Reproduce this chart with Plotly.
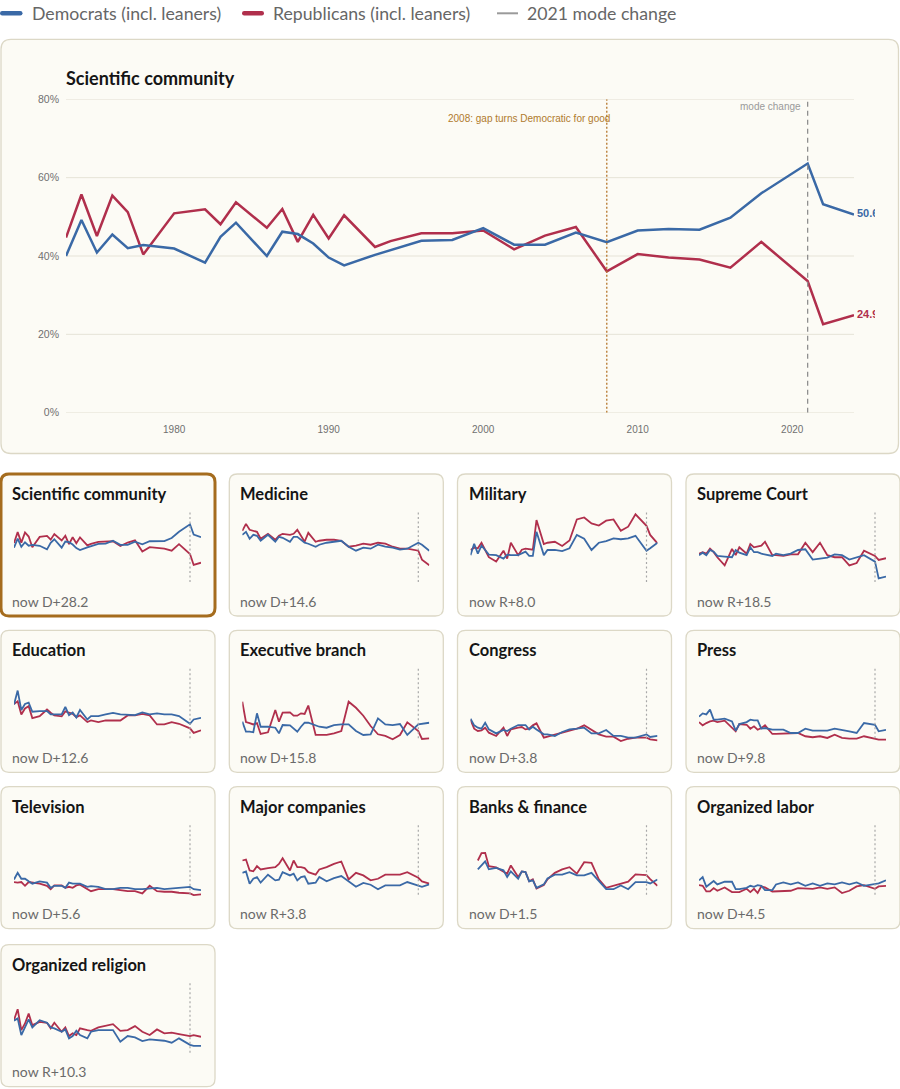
import plotly.graph_objects as go

W, H = 900, 1089

# ---------------- data ----------------
years = [1973, 1974, 1975, 1976, 1977, 1978, 1980, 1982, 1983, 1984, 1986, 1987, 1988,
         1989, 1990, 1991, 1993, 1994, 1996, 1998, 2000, 2002, 2004, 2006, 2008, 2010,
         2012, 2014, 2016, 2018, 2021, 2022, 2024]

institutions = ["Scientific community", "Medicine", "Military", "Supreme Court",
                "Education", "Executive branch", "Congress", "Press",
                "Television", "Major companies", "Banks & finance", "Organized labor",
                "Organized religion"]

gap_labels = ["now D+28.2", "now D+14.6", "now R+8.0", "now R+18.5",
              "now D+12.6", "now D+15.8", "now D+3.8", "now D+9.8",
              "now D+5.6", "now R+3.8", "now D+1.5", "now D+4.5",
              "now R+10.3"]

sci_dem = [40.0, 49.2, 40.9, 45.5, 42.0, 42.8, 41.9, 38.3, 44.9, 48.5, 40.0, 46.2, 45.6,
           43.2, 39.6, 37.6, 40.3, 41.5, 43.9, 44.1, 47.1, 42.9, 42.9, 46.0, 43.5, 46.5,
           46.9, 46.7, 49.8, 56.0, 63.6, 53.2, 50.6]
sci_rep = [44.7, 55.7, 45.1, 55.4, 51.2, 40.4, 50.9, 51.9, 48.1, 53.7, 47.2, 52.0, 43.6,
           50.5, 44.5, 50.4, 42.3, 43.8, 45.8, 45.8, 46.5, 41.7, 45.2, 47.4, 36.1, 40.5,
           39.6, 39.1, 37.0, 43.6, 33.6, 22.6, 24.9]

med_dem = [53, 56, 49, 53, 52, 47, 53, 46, 51, 50, 46, 51, 51, 48, 45, 44,
           41, 43, 45, 46, 47, 41, 37, 40, 39, 43, 41, 40, 38, 39, 45, 43, 37]
med_rep = [57, 64, 58, 57, 56, 49, 54, 48, 52, 54, 53, 54, 58, 52, 46, 55,
           46, 47, 48, 48, 47, 41, 42, 44, 43, 45, 44, 41, 39, 39, 37, 28, 22.4]

mil_dem = [32.5, 44, 34, 42, 37.7, 33, 32.5, 29, 33, 32.5, 32.5, 34, 36, 31.7, 31.7, 56,
           32.5, 37.7, 37.7, 36.5, 39.4, 52.9, 49, 37.7, 45, 46.7, 49.4, 48.5, 49.4, 52,
           37, 39.4, 45]
mil_rep = [37.7, 40, 39.4, 45, 37.7, 30.4, 26, 37, 29, 45, 32.5, 38, 39, 38.7, 38, 67.8,
           43.7, 45, 46, 41.8, 47.2, 68.5, 70.5, 64.5, 62.3, 67.2, 68.5, 57, 61.2, 73.6,
           62, 52.9, 44.4]

sc_dem = [32.5, 35, 32.5, 37.7, 36, 31.7, 31, 30.4, 37.7, 35, 32.5, 40.4, 35.5, 35.5, 34, 33.3,
          31.7, 34, 32.5, 34, 37.7, 38.4, 28, 29, 30, 33.3, 32.5, 28, 30, 32.5, 26, 9, 10.9]
sc_rep = [34, 35.5, 34, 39, 35.5, 30.4, 22.2, 38.7, 32.5, 40.4, 34, 43.7, 40.4, 41, 42, 46,
          32.5, 32.5, 31.7, 33.3, 33.3, 45, 35.5, 45, 32.5, 30.4, 30.4, 22.2, 24.5, 37,
          31.7, 27.7, 29.4]

edu_dem = [39.4, 53.5, 33.9, 40, 41.3, 32.2, 32.9, 32.9, 29.5, 29.5, 29.5, 37.2, 28.8, 31.5,
           26.5, 34.1, 24.4, 27.8, 27.8, 29.5, 31.1, 29.5, 29.5, 28.8, 31.5, 29.5, 30.5,
           29.5, 29.5, 27.8, 20.1, 24.4, 26.1]
edu_rep = [40, 42.7, 29.5, 35.5, 37.8, 25.8, 27.8, 34.5, 31.2, 28.5, 27.5, 32.5, 31.2, 30.1,
           26.8, 28.5, 21.8, 23.4, 21.8, 23.4, 23.4, 23.4, 28.5, 28.5, 30.1, 28.5, 19.4,
           19.4, 21.8, 20.1, 15.5, 10.9, 13.5]

exe_dem = [22.2, 12.1, 12.1, 11.5, 30.6, 17.1, 17.1, 16.1, 10.5, 18.8, 18.5, 15.0, 12.1,
           17.1, 21.1, 21.1, 18.8, 17.1, 16.1, 18.8, 19.4, 19.4, 12.8, 8.8, 9.4, 25.5,
           19.4, 18.8, 19.8, 8.8, 19.4, 19.8, 21.1]
exe_rep = [42.3, 21.8, 20.8, 19.4, 20.8, 9.8, 11.5, 33.9, 22.2, 31.3, 31.5, 28.2, 28.2,
           30.6, 30.0, 38.4, 8.8, 8.8, 8.8, 10.5, 12.8, 42.3, 36.2, 28.2, 17.8, 9.5, 7.8,
           4.5, 8.8, 21.5, 12.8, 4.8, 5.3]

con_dem = [25.2, 18.5, 16.1, 15.1, 21.1, 14.4, 10.4, 13.8, 12.8, 15.1, 18.8, 18.8, 18.8,
           14.4, 17.1, 14.4, 9.4, 9.4, 7.8, 11.8, 14.4, 15.1, 16.1, 10.4, 10.4, 13.8, 7.8,
           7.8, 6.1, 6.1, 9.4, 6.8, 7.8]
con_rep = [24, 15.1, 12.8, 13.5, 16.1, 11.1, 7.8, 16.1, 7.8, 14.4, 16.1, 16.8, 14.4, 15.1,
           18.5, 20.5, 6.1, 7.1, 9.4, 11.1, 13.8, 15.1, 18.5, 13.8, 9.4, 7.1, 7.1, 2.7, 5.0,
           6.1, 6.1, 4.4, 3.4]

prs_dem = [27.2, 30.5, 29.5, 34.3, 24.2, 24.2, 25.2, 22.5, 13.1, 19.8, 21.8, 24.2, 23.5,
           23.5, 15.1, 15.8, 14.1, 14.1, 14.1, 10.8, 10.8, 15.1, 13.1, 13.1, 13.1, 15.1,
           14.1, 12.5, 10.8, 20.8, 19.1, 12.5, 13.9]
prs_rep = [21.8, 18.5, 20.8, 22.5, 23.2, 21.8, 23.2, 16.5, 12.5, 19.8, 19.1, 15.1, 17.5,
           14.1, 15.8, 18.5, 9.8, 9.8, 10.1, 9.8, 10.8, 7.5, 6.5, 7.5, 5.8, 9.1, 5.8, 5.1,
           5.1, 7.5, 4.8, 4.1, 4.1]

tv_dem = [20.8, 27.5, 21.5, 21.5, 18.9, 16.5, 18.9, 17.6, 12.4, 14.4, 14.4, 12.4, 17.6,
          16.5, 16.5, 16.5, 13.4, 14.0, 13.4, 11.0, 11.0, 12.4, 12.4, 11.0, 11.0, 11.7,
          12.4, 11.0, 11.7, 11.7, 13.4, 11.0, 10.1]
tv_rep = [18.2, 17.6, 18.2, 14.4, 18.2, 17.6, 16.5, 14.4, 11.0, 14.8, 14.8, 12.4, 13.4,
          12.4, 14.8, 15.5, 11.0, 9.0, 11.0, 11.0, 11.0, 10.1, 9.0, 9.0, 6.7, 14.4, 9.0,
          8.4, 8.4, 7.4, 6.7, 5.0, 5.7]

biz_dem = [27.5, 28.9, 16.5, 21.5, 23.2, 17.6, 25.6, 19.9, 20.5, 28.2, 24.9, 26.6, 19.9,
           23.2, 23.9, 16.5, 17.6, 23.2, 18.9, 22.2, 24.2, 18.9, 13.4, 17.3, 15.5, 11.0,
           14.8, 14.8, 14.8, 18.2, 14.1, 13.4, 15.8]
biz_rep = [39.9, 40.9, 29.9, 29.0, 34.2, 30.9, 32.2, 33.2, 36.5, 42.2, 29.9, 39.9, 33.2,
           33.2, 32.2, 28.2, 25.6, 30.9, 33.2, 36.5, 38.9, 20.8, 27.5, 24.9, 19.9, 21.5,
           25.6, 25.6, 25.6, 28.2, 22.5, 18.9, 16.5]

bank_dem = [None, None, 30.9, 35, 39, 31, 32.5, 30, 23.2, 29, 21.5, 28.9, 28.2, 18.9, 19.9,
            12.4, 15.8, 21.8, 25.6, 25.6, 28.2, 24.9, 24.9, 27.5, 18.9, 11.0, 11.0, 14.8,
            11.0, 18.2, 18.2, 16.8, 20.8]
bank_rep = [None, None, 39.9, 47.3, 47.6, 34.2, 33, 28.2, 26.6, 34.9, 23.2, 28.9, 28.2,
            18.9, 20.9, 11.7, 15.1, 21, 27.5, 30.9, 33.2, 26.6, 38.2, 37.6, 20.9, 12.4,
            14.4, 16.8, 18.5, 25.9, 25.2, 21.2, 14.4]

lab_dem = [19.9, 23.2, 13.4, 16.8, 19.2, 15.8, 18.5, 18.5, 11.0, 11.0, 12.4, 14.4, 13.4,
           15.1, 14.4, 10.1, 10.1, 15.8, 17.8, 15.8, 17.8, 14.4, 16.8, 14.4, 16.8, 15.8,
           17.8, 15.8, 17.8, 14.4, 15.8, 16.8, 19.9]
lab_rep = [15.1, 14.4, 8.7, 8.7, 12.1, 9.4, 12.8, 8.1, 8.1, 8.1, 11.4, 8.1, 11.4, 7.1,
           13.8, 12.8, 8.7, 8.7, 9.4, 9.4, 12.1, 11.4, 11.4, 12.8, 11.4, 12.8, 7.1, 9.4,
           13.8, 15.1, 11.4, 13.8, 14.4]

rel_dem = [37.7, 40, 23.2, 31.5, 38.9, 30.9, 38.2, 35.6, 30.9, 30, 26.6, 28.9, 19.9, 22.2,
           27.5, 23.2, 19.9, 26.6, 28.2, 28.2, 28.2, 16.5, 22.2, 20.8, 17.2, 18.9, 18.2,
           17.5, 15.5, 19.9, 13.4, 12.4, 12.4]
rel_rep = [38.5, 49.2, 28.2, 34.9, 44.9, 33.2, 36.5, 35.6, 30, 35.6, 26.6, 30.9, 22.2,
           24.9, 23.2, 30, 28.2, 27.5, 30.9, 32.2, 34.2, 27.5, 28.2, 32.2, 26.6, 23.2,
           28.9, 24.9, 25.6, 24.2, 22.2, 23.2, 21.5]

dem_series = [sci_dem, med_dem, mil_dem, sc_dem, edu_dem, exe_dem, con_dem, prs_dem,
              tv_dem, biz_dem, bank_dem, lab_dem, rel_dem]
rep_series = [sci_rep, med_rep, mil_rep, sc_rep, edu_rep, exe_rep, con_rep, prs_rep,
              tv_rep, biz_rep, bank_rep, lab_rep, rel_rep]

y_ticks = [0, 20, 40, 60, 80]
y_tick_text = ["0%", "20%", "40%", "60%", "80%"]
x_ticks = [1980, 1990, 2000, 2010, 2020]
end_labels = ["50.6", "24.9"]
legend_labels = ["Democrats (incl. leaners)", "Republicans (incl. leaners)", "2021 mode change"]
mode_year = 2021
gap_year = 2008

# ---------------- style ----------------
BLUE = "#3a69a6"
RED = "#b02f4c"
OCHRE = "#b5762b"
CARD_BG = "#fcfbf5"
CARD_BORDER = "#dcd8c6"
SEL_BORDER = "#a56c1e"
TITLE_FONT = "Lato"
AX_FONT = "Liberation Sans"
TXT_SHIFT = -2


def fx(px):
    return px / W


def fy(py):
    return 1 - py / H


def rrect(x0, y0, x1, y1, r):
    f = lambda v: f"{v:.5f}"
    return (f"M{f(fx(x0 + r))},{f(fy(y0))} L{f(fx(x1 - r))},{f(fy(y0))} "
            f"Q{f(fx(x1))},{f(fy(y0))} {f(fx(x1))},{f(fy(y0 + r))} "
            f"L{f(fx(x1))},{f(fy(y1 - r))} Q{f(fx(x1))},{f(fy(y1))} {f(fx(x1 - r))},{f(fy(y1))} "
            f"L{f(fx(x0 + r))},{f(fy(y1))} Q{f(fx(x0))},{f(fy(y1))} {f(fx(x0))},{f(fy(y1 - r))} "
            f"L{f(fx(x0))},{f(fy(y0 + r))} Q{f(fx(x0))},{f(fy(y0))} {f(fx(x0 + r))},{f(fy(y0))} Z")


fig = go.Figure()
shapes = []
annotations = []
layout = {}

# ---------------- main card ----------------
MAIN_CARD = (1, 39.3, 898.5, 453.5)
MX0, MX1 = 66, 854
MY0, MY1 = 99.3, 412.7
CLIP_X = 875

shapes.append(dict(type="path", path=rrect(*MAIN_CARD, 10), xref="paper", yref="paper",
                   fillcolor=CARD_BG, line=dict(color=CARD_BORDER, width=1.3), layer="below"))

layout["xaxis"] = dict(domain=[fx(MX0), fx(MX1)], range=[years[0], years[-1]], anchor="y",
                       tickmode="array", tickvals=x_ticks, showgrid=False, zeroline=False,
                       showline=False, ticks="", ticklabelstandoff=9, automargin=False,
                       tickfont=dict(family=AX_FONT, size=10, color="#707070"), fixedrange=True)
layout["yaxis"] = dict(domain=[fy(MY1), fy(MY0)], range=[0, 80], anchor="x",
                       tickmode="array", tickvals=y_ticks, ticktext=y_tick_text,
                       showgrid=False, zeroline=False, showline=False, ticks="",
                       ticklabelstandoff=6, automargin=False,
                       tickfont=dict(family=AX_FONT, size=10.5, color="#707070"), fixedrange=True)

for v in y_ticks:
    shapes.append(dict(type="line", xref="x", yref="y", x0=years[0], x1=years[-1], y0=v, y1=v,
                       line=dict(color="#e6e3d7", width=1), layer="below"))

px_per_year = (MX1 - MX0) / (years[-1] - years[0])
layout["xaxis2"] = dict(domain=[fx(MX0), fx(CLIP_X)],
                        range=[years[0], years[-1] + (CLIP_X - MX1) / px_per_year],
                        anchor="y2", visible=False, fixedrange=True, automargin=False)
layout["yaxis2"] = dict(domain=[fy(MY1), fy(MY0)], range=[0, 80], anchor="x2",
                        visible=False, fixedrange=True, automargin=False)

fig.add_trace(go.Scatter(x=years, y=sci_rep, mode="lines", xaxis="x", yaxis="y",
                         line=dict(color=RED, width=2.5), hoverinfo="skip", showlegend=False))
fig.add_trace(go.Scatter(x=years, y=sci_dem, mode="lines", xaxis="x", yaxis="y",
                         line=dict(color=BLUE, width=2.5), hoverinfo="skip", showlegend=False))
label_x = years[-1] + 3 / px_per_year
fig.add_trace(go.Scatter(x=[label_x, label_x], y=[sci_dem[-1], sci_rep[-1]],
                         text=end_labels, mode="text", textposition="middle right",
                         textfont=dict(family=AX_FONT, size=11, color=[BLUE, RED], weight="bold"),
                         cliponaxis=True, xaxis="x2", yaxis="y2", hoverinfo="skip",
                         showlegend=False))

shapes.append(dict(type="line", xref="x", yref="y", x0=gap_year, x1=gap_year, y0=0, y1=80,
                   line=dict(color=OCHRE, width=1.3, dash="2px,2px")))
shapes.append(dict(type="line", xref="x", yref="y", x0=mode_year, x1=mode_year, y0=0, y1=80,
                   line=dict(color="#8f8f8f", width=1.3, dash="5px,4px")))

annotations.append(dict(text="Scientific community", xref="paper", yref="paper",
                        x=fx(65.5), xshift=TXT_SHIFT, y=fy(78), xanchor="left", yanchor="middle",
                        showarrow=False,
                        font=dict(family=TITLE_FONT, size=18, color="#151515", weight="bold")))
annotations.append(dict(text="2008: gap turns Democratic for good", xref="x", yref="paper",
                        x=gap_year, xshift=5, y=fy(119), xanchor="right", yanchor="middle",
                        showarrow=False, font=dict(family=AX_FONT, size=10, color="#b07a2c")))
annotations.append(dict(text="mode change", xref="x", yref="paper",
                        x=mode_year, xshift=-5, y=fy(106.5), xanchor="right", yanchor="middle",
                        showarrow=False, font=dict(family=AX_FONT, size=10, color="#9a9a9a")))

# ---------------- legend ----------------
LEG_Y = 13.3
shapes.append(dict(type="path", path=rrect(0, LEG_Y - 2.2, 22.5, LEG_Y + 2.2, 2.2), xref="paper",
                   yref="paper", fillcolor=BLUE, line=dict(width=0)))
shapes.append(dict(type="path", path=rrect(242, LEG_Y - 2.2, 264, LEG_Y + 2.2, 2.2), xref="paper",
                   yref="paper", fillcolor=RED, line=dict(width=0)))
shapes.append(dict(type="line", xref="paper", yref="paper", x0=fx(497), x1=fx(518),
                   y0=fy(LEG_Y), y1=fy(LEG_Y), line=dict(color="#9a9a9a", width=2)))
for lx, txt in zip([31.5, 273, 527], legend_labels):
    annotations.append(dict(text=txt, xref="paper", yref="paper", x=fx(lx), xshift=TXT_SHIFT,
                            y=fy(LEG_Y), xanchor="left", yanchor="middle", showarrow=False,
                            font=dict(family=TITLE_FONT, size=17.7, color="#666666")))

# ---------------- small multiples ----------------
COL_X = [1, 229.3, 457.5, 686]
ROW_Y = [474, 630.3, 786.7, 944.7]
CW, CH = 214, 142

for i, name in enumerate(institutions):
    cx = COL_X[i % 4]
    cy = ROW_Y[i // 4]
    n = i + 3
    selected = (i == 0)
    shapes.append(dict(type="path", path=rrect(cx, cy, cx + CW, cy + CH, 8), xref="paper",
                       yref="paper", fillcolor=CARD_BG,
                       line=dict(color=SEL_BORDER if selected else CARD_BORDER,
                                 width=3 if selected else 1.3),
                       layer="below"))
    layout[f"xaxis{n}"] = dict(domain=[fx(cx + 13), fx(cx + 200)], range=[years[0], years[-1]],
                               anchor=f"y{n}", visible=False, fixedrange=True, automargin=False)
    layout[f"yaxis{n}"] = dict(domain=[fy(cy + 113.4), fy(cy + 34)], range=[0, 80],
                               anchor=f"x{n}", visible=False, fixedrange=True, automargin=False)
    fig.add_trace(go.Scatter(x=years, y=rep_series[i], mode="lines", xaxis=f"x{n}",
                             yaxis=f"y{n}", line=dict(color=RED, width=1.8),
                             hoverinfo="skip", showlegend=False))
    fig.add_trace(go.Scatter(x=years, y=dem_series[i], mode="lines", xaxis=f"x{n}",
                             yaxis=f"y{n}", line=dict(color=BLUE, width=1.8),
                             hoverinfo="skip", showlegend=False))
    shapes.append(dict(type="line", xref=f"x{n}", yref="paper", x0=mode_year, x1=mode_year,
                       y0=fy(cy + 108), y1=fy(cy + 36),
                       line=dict(color="#a8a8a8", width=1.2, dash="2px,2.5px")))
    annotations.append(dict(text=name, xref="paper", yref="paper", x=fx(cx + 11),
                            xshift=TXT_SHIFT, y=fy(cy + 20), xanchor="left", yanchor="middle",
                            showarrow=False,
                            font=dict(family=TITLE_FONT, size=16.5, color="#151515",
                                      weight="bold")))
    annotations.append(dict(text=gap_labels[i], xref="paper", yref="paper", x=fx(cx + 11),
                            xshift=TXT_SHIFT, y=fy(cy + 127), xanchor="left", yanchor="middle",
                            showarrow=False,
                            font=dict(family=TITLE_FONT, size=14, color="#6a6a6a")))

fig.update_layout(
    width=W, height=H, autosize=False,
    margin=dict(l=0, r=0, t=0, b=0, pad=0, autoexpand=False),
    paper_bgcolor="white", plot_bgcolor="rgba(0,0,0,0)",
    shapes=shapes, annotations=annotations, showlegend=False,
    title=dict(text=""),
    **layout,
)

fig.write_html("out.html", config={"displayModeBar": False, "staticPlot": True},
               post_script="document.body.style.margin='0';document.body.style.padding='0';"
                           "document.documentElement.style.overflow='hidden';")
